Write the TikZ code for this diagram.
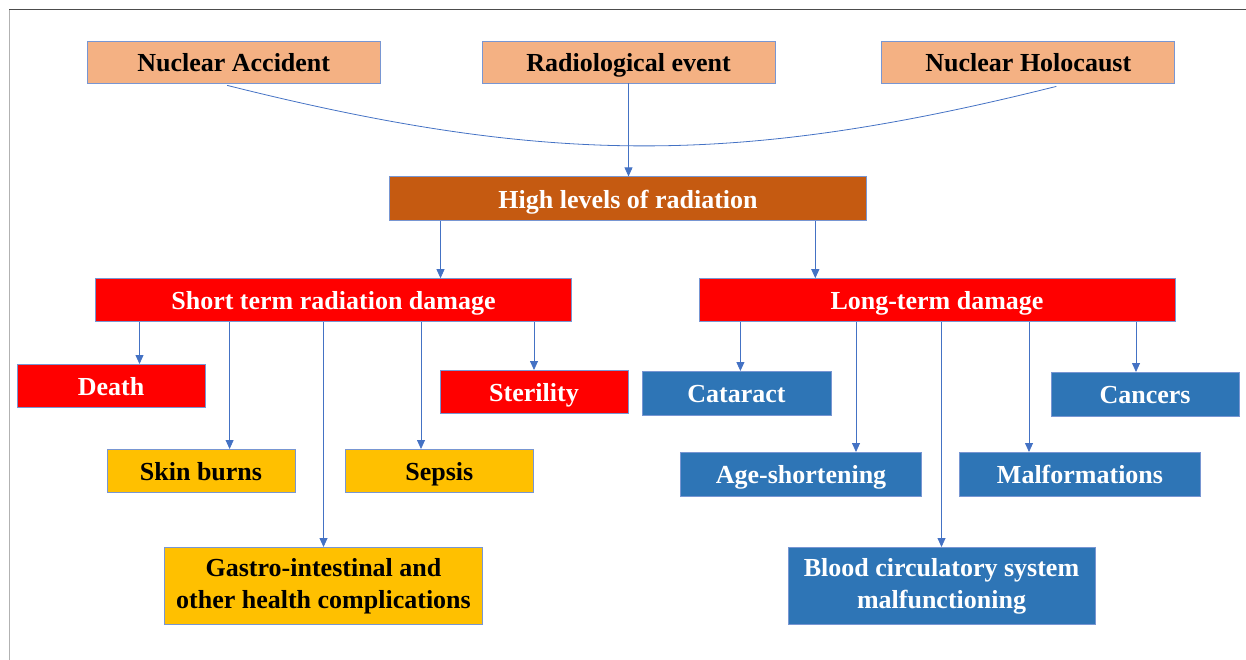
\documentclass[tikz,border=0pt]{standalone}
\usepackage{fontspec}
\setmainfont{Liberation Serif}
\usetikzlibrary{positioning, arrows.meta}
\definecolor{peach}{RGB}{244,177,131}
\definecolor{rust}{RGB}{197,90,17}
\definecolor{alarm}{RGB}{255,0,0}
\definecolor{amber}{RGB}{255,192,0}
\definecolor{steel}{RGB}{46,117,182}
\definecolor{edgeblue}{RGB}{68,114,196}
\definecolor{rimblue}{RGB}{120,150,210}
\tikzset{
>={Triangle[width=8pt,length=9pt]}, % small filled arrow heads
link/.style={color=edgeblue, line width=0.8pt}, % the thin blue connectors
box/.style={draw=rimblue, line width=0.8pt, inner sep=0pt, align=center, text height=19pt, text depth=0pt, font=\fontsize{26}{32}\selectfont\bfseries}, % every coloured box
source/.style={box, fill=peach, text=black, minimum width=293pt, minimum height=42pt},
}
\tikzset{
  cause/.style={box, fill=rust, text=white, minimum width=477pt, minimum height=44pt},
  branch/.style={box, fill=alarm, text=white, minimum width=476pt, minimum height=43pt},
  acute/.style={box, fill=alarm, text=white, minimum width=188pt, minimum height=43pt},
  mild/.style={box, fill=amber, text=black, minimum width=188pt, minimum height=43pt},
  late/.style={box, fill=steel, text=white, minimum width=189pt, minimum height=44pt},
  twolines/.style={text height=, text depth=, minimum height=77pt}
}

\begin{document}
\begin{tikzpicture}[x=1pt, y=-1pt]
      \useasboundingbox (0,0) rectangle (1246,660);
      \draw[gray!60] (9,660) -- (9,9);
      \draw[black!70] (9,9) -- (1246,9);

      \node[source] (radio) at (628.5,62) {Radiological event};
      \node[source, left=101pt of radio] (accident) {Nuclear Accident};
      \node[source, right=106pt of radio] (holocaust) {Nuclear Holocaust};
      \node[cause, below=93pt of radio, xshift=-0.5pt] (high) {High levels of radiation};
      \node[branch, below=57pt of high, xshift=-294.5pt] (short) {Short term radiation damage};
      \node[branch, below=57pt of high, xshift=309pt] (long) {Long-term damage};
      \node[acute, below=42pt of short, xshift=-222.5pt] (death) {Death};
      \node[mild, below=127pt of short, xshift=-132.5pt] (skin) {Skin burns};
      \node[mild, twolines, below=225pt of short, xshift=-10pt, minimum width=318pt] (gastro) {Gastro-intestinal and\\other health complications};
      \node[mild, below=127pt of short, xshift=105.8pt] (sepsis) {Sepsis};
      \node[acute, below=48pt of short, xshift=200.5pt] (sterility) {Sterility};
      \node[late, below=49pt of long, xshift=-200.6pt] (cataract) {Cataract};
      \node[late, below=130pt of long, xshift=-136pt, minimum width=241pt] (age) {Age-shortening};
      \node[late, twolines, below=225pt of long, xshift=4.5pt, minimum width=307pt] (blood) {Blood circulatory system\\malfunctioning};
      \node[late, below=130pt of long, xshift=143pt, minimum width=241pt] (malf) {Malformations};
      \node[late, below=50pt of long, xshift=208pt, minimum width=188pt] (cancers) {Cancers};

      % the three sources meet in one curve
      \draw[link] ([xshift=-6.5pt,yshift=-2pt]accident.south) .. controls +(320pt,-80pt) and +(-320pt,-80pt) .. ([xshift=28pt,yshift=-3pt]holocaust.south);
      \draw[link, ->] (radio.south) -- (radio.south |- high.north);

      \draw[link, ->] ([xshift=107pt]short.north |- high.south) edge ([xshift=107pt]short.north)
      ([xshift=-121.7pt]long.north |- high.south) -- ([xshift=-121.7pt]long.north);

      \draw[link, ->] ([xshift=28.5pt]death.north |- short.south) edge ([xshift=28.5pt]death.north)
      ([xshift=28.6pt]skin.north |- short.south) edge ([xshift=28.6pt]skin.north)
      (gastro.north |- short.south) edge (gastro.north)
      ([xshift=-18.3pt]sepsis.north |- short.south) edge ([xshift=-18.3pt]sepsis.north)
      (sterility.north |- short.south) -- (sterility.north);

      \draw[link, ->] ([xshift=4pt]cataract.north |- long.south) edge ([xshift=4pt]cataract.north)
      ([xshift=55pt]age.north |- long.south) edge ([xshift=55pt]age.north)
      (blood.north |- long.south) edge (blood.north)
      ([xshift=-51pt]malf.north |- long.south) edge ([xshift=-51pt]malf.north)
      ([xshift=-9pt]cancers.north |- long.south) -- ([xshift=-9pt]cancers.north);
    \end{tikzpicture}
\end{document}
